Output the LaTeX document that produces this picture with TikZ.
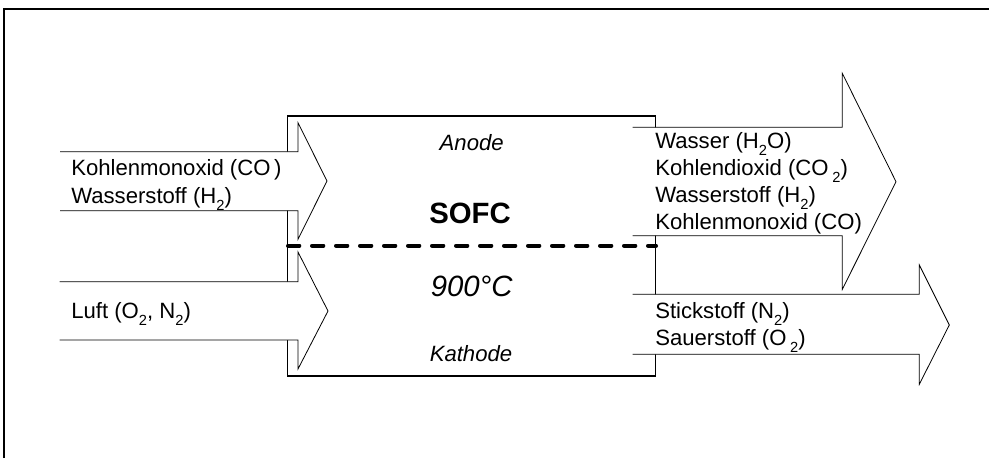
\documentclass[tikz,border=0pt]{standalone}
\usepackage{fontspec}
\setmainfont{Liberation Sans}
\newcommand{\lowsub}[1]{\raisebox{-0.32em}{\fontsize{11pt}{11pt}\selectfont #1}}
\begin{document}
\begin{tikzpicture}[x=0.75pt,y=-0.75pt,
  lbl/.style={inner sep=0pt,anchor=base west,font=\fontsize{16.6pt}{18pt}\selectfont},
  mid/.style={inner sep=0pt,anchor=base,font=\fontsize{16.6pt}{18pt}\selectfont\itshape},
  arrowline/.style={line width=0.6pt,line join=miter},
  boxline/.style={line width=1.3pt},
  frameline/.style={line width=1.5pt}]
\useasboundingbox (0,0) rectangle (989,458);
% frame
\draw[frameline] (4,458) -- (4,9) -- (989,9);
% SOFC box
\draw[boxline] (287.5,116) rectangle (655.5,376);
% arrows
\fill[white] (60,151.7) -- (298,151.7) -- (298,122.7) -- (327,181) -- (298,239.3) -- (298,210.7) -- (60,210.7) -- cycle;
\draw[arrowline] (60,151.7) -- (298,151.7) -- (298,122.7) -- (327,181) -- (298,239.3) -- (298,210.7) -- (60,210.7);
\fill[white] (59.5,281.7) -- (298,281.7) -- (298,252) -- (328,311) -- (298,369) -- (298,340) -- (59.5,340) -- cycle;
\draw[arrowline] (59.5,281.7) -- (298,281.7) -- (298,252) -- (328,311) -- (298,369) -- (298,340) -- (59.5,340);
\fill[white] (632.7,127.3) -- (842.3,127.3) -- (842.3,73.3) -- (896,181.7) -- (842.3,289.3) -- (842.3,235.7) -- (632.7,235.7) -- cycle;
\draw[arrowline] (632.7,127.3) -- (842.3,127.3) -- (842.3,73.3) -- (896,181.7) -- (842.3,289.3) -- (842.3,235.7) -- (632.7,235.7);
\fill[white] (632.7,294.3) -- (919.3,294.3) -- (919.3,265) -- (949.3,325) -- (919.3,384.3) -- (919.3,354.3) -- (632.7,354.3) -- cycle;
\draw[arrowline] (632.7,294.3) -- (919.3,294.3) -- (919.3,265) -- (949.3,325) -- (919.3,384.3) -- (919.3,354.3) -- (632.7,354.3);
% membrane
\draw[line width=3pt,line cap=round,dash pattern=on 8.5pt off 9.5pt] (288,245.7) -- (656,245.7);
% texts
\node[lbl] (k1) at (71,175) {Kohlenmonoxid (CO\,)};
\node[lbl] (k2) at (71,203.3) {Wasserstoff (H\lowsub{2})};
\node[lbl] (luft) at (71,318.3) {Luft (O\lowsub{2}, N\lowsub{2})};
\node[mid] (anode) at (471.7,150) {Anode};
\node[inner sep=0pt,anchor=base,font=\fontsize{22pt}{24pt}\selectfont\bfseries] (sofc) at (470,223.3) {SOFC};
\node[inner sep=0pt,anchor=base,font=\fontsize{22pt}{24pt}\selectfont\itshape] (temp) at (471.7,296) {900°C};
\node[mid] (kath) at (471,361) {Kathode};
\node[lbl] (r1) at (655,148.3) {Wasser (H\lowsub{2}O)};
\node[lbl] (r2) at (655,175) {Kohlendioxid (CO\,\lowsub{2})};
\node[lbl] (r3) at (655,202.3) {Wasserstoff (H\lowsub{2})};
\node[lbl] (r4) at (655,229.3) {Kohlenmonoxid (CO)};
\node[lbl] (r5) at (655,318.3) {Stickstoff (N\lowsub{2})};
\node[lbl] (r6) at (655,345.7) {Sauerstoff (O\,\lowsub{2})};
\end{tikzpicture}
\end{document}
